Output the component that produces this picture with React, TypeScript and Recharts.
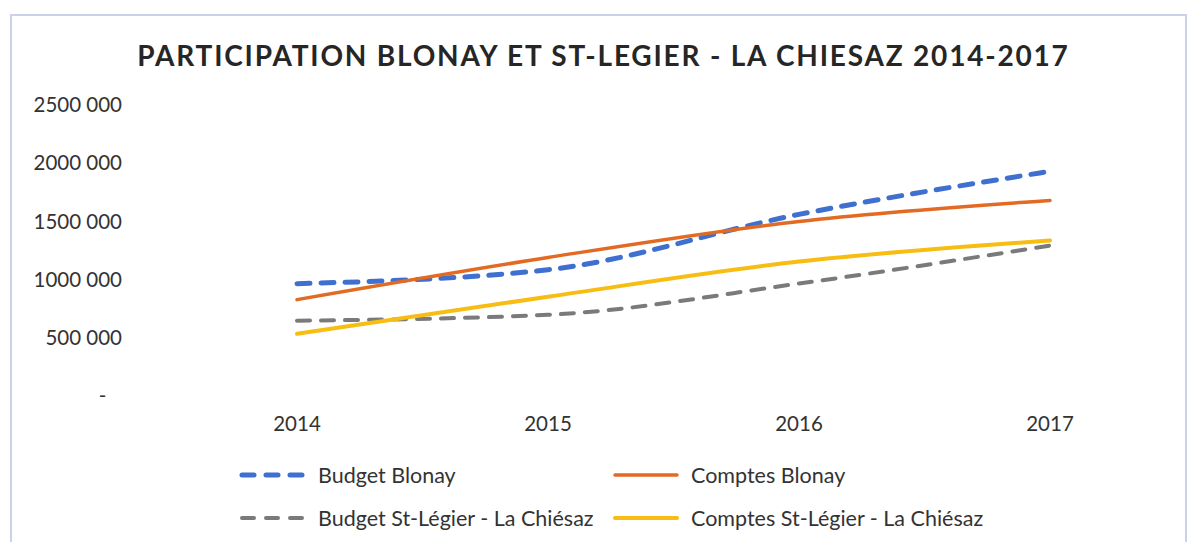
import { LineChart, Line, XAxis, YAxis } from "recharts";

const years = ["2014", "2015", "2016", "2017"];
const budgetBlonay = [965000, 1085000, 1560000, 1930000];
const comptesBlonay = [828000, 1190000, 1500000, 1680000];
const budgetStLegier = [647000, 698000, 966000, 1293000];
const comptesStLegier = [534000, 853000, 1155000, 1336000];
const yTicks = [0, 500000, 1000000, 1500000, 2000000, 2500000];

const series = [
  { key: "budgetBlonay", name: "Budget Blonay", color: "#3f6fcf", dash: "13 11", width: 5 },
  { key: "comptesBlonay", name: "Comptes Blonay", color: "#e26a22", dash: undefined, width: 3.5 },
  { key: "budgetStLegier", name: "Budget St-Légier - La Chiésaz", color: "#7a7a7a", dash: "13 11", width: 4 },
  { key: "comptesStLegier", name: "Comptes St-Légier - La Chiésaz", color: "#f7bd12", dash: undefined, width: 4 },
];

const chartData = years.map((year, i) => ({
  year,
  budgetBlonay: budgetBlonay[i],
  comptesBlonay: comptesBlonay[i],
  budgetStLegier: budgetStLegier[i],
  comptesStLegier: comptesStLegier[i],
}));

const font = "Lato, 'Open Sans', sans-serif";

// Excel accounting style: "2500 000", zero shown as "-" set back from the edge
function formatTick(v: number) {
  if (v === 0) return "-\u00a0\u00a0\u00a0";
  const s = String(v);
  return s.slice(0, s.length - 3) + " " + s.slice(-3);
}

function ChartLegend() {
  return (
    <div
      style={{
        position: "absolute",
        top: 463,
        left: 239,
        display: "grid",
        gridTemplateColumns: "373px 373px",
        rowGap: 19,
        fontFamily: font,
        fontSize: 21.5,
        color: "#333",
      }}
    >
      {series.map((s) => (
        <div key={s.key} style={{ display: "flex", alignItems: "center", height: 24 }}>
          <svg width={68} height={10} style={{ marginRight: 11 }}>
            <line
              x1={3}
              y1={5}
              x2={65}
              y2={5}
              stroke={s.color}
              strokeWidth={s.width}
              strokeDasharray={s.dash ? "12 12" : undefined}
              strokeLinecap="round"
            />
          </svg>
          <span>{s.name}</span>
        </div>
      ))}
    </div>
  );
}

export default function App() {
  return (
    <div style={{ position: "relative", width: 1189, height: 542, background: "#fff", overflow: "hidden" }}>
      <style>{`body{margin:0}`}</style>
      <div
        style={{
          position: "absolute",
          left: 10,
          top: 14,
          width: 1173,
          height: 540,
          borderLeft: "2px solid #c9d2e6",
          borderTop: "2px solid #c9d2e6",
          borderRight: "2px solid #c9d2e6",
        }}
      />
      <div
        style={{
          position: "absolute",
          top: 38,
          left: 0,
          width: 1207,
          textAlign: "center",
          fontFamily: font,
          fontWeight: 700,
          fontSize: 28,
          letterSpacing: 1.8,
          color: "#262626",
        }}
      >
        PARTICIPATION BLONAY ET ST-LEGIER - LA CHIESAZ 2014-2017
      </div>
      <div style={{ position: "absolute", left: 0, top: 0 }}>
        <LineChart
          width={1189}
          height={542}
          data={chartData}
          margin={{ top: 105, right: 14, bottom: 0, left: 0 }}
        >
          <XAxis
            dataKey="year"
            axisLine={false}
            tickLine={false}
            tickSize={0}
            tickMargin={20}
            height={146}
            padding={{ left: 125, right: 125 }}
            tick={{ fill: "#333", fontSize: 20.5, fontFamily: font }}
          />
          <YAxis
            domain={[0, 2500000]}
            ticks={yTicks}
            axisLine={false}
            tickLine={false}
            tickSize={0}
            tickMargin={50}
            width={172}
            tickFormatter={formatTick}
            tick={{ fill: "#333", fontSize: 20.5, fontFamily: font }}
          />
          {series.map((s) => (
            <Line
              key={s.key}
              dataKey={s.key}
              name={s.name}
              type="monotone"
              stroke={s.color}
              strokeWidth={s.width}
              strokeDasharray={s.dash}
              strokeLinecap="round"
              dot={false}
              activeDot={false}
              isAnimationActive={false}
            />
          ))}
        </LineChart>
      </div>
      <ChartLegend />
    </div>
  );
}
